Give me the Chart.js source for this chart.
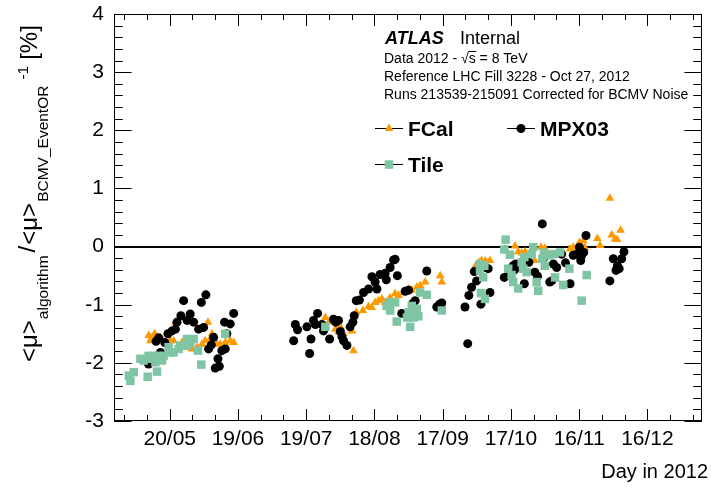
<!DOCTYPE html>
<html>
<head>
<meta charset="utf-8">
<script src="https://cdn.jsdelivr.net/npm/chart.js@4.4.0/dist/chart.umd.min.js"></script>
<style>
  html, body { margin: 0; padding: 0; background: #fff; }
  canvas { display: block; }
</style>
</head>
<body>
<canvas id="myChart" width="711" height="490"></canvas>
<script>
// day of year 2012 / relative difference in %
const fcalDays = [131.7, 132.5, 133.2, 134.4, 135.8, 137.6, 139.8, 141.3, 142.7, 143.5, 146.4, 148.6, 150.8, 153.0, 155.2, 156.6, 157.8, 158.8, 159.6, 161.8, 163.2, 165.4, 167.6, 169.1,
  209.4, 211.0, 213.8, 215.2, 216.0, 217.4, 221.1, 221.8, 223.0, 225.9, 228.4, 229.8, 231.3, 232.8, 234.3, 235.7, 237.9, 240.1, 241.6, 243.8, 246.0, 247.4, 249.6, 251.1, 253.3, 259.9, 260.6,
  275.5, 277.0, 278.1, 279.8, 281.8, 288.4, 292.8, 294.2, 295.7, 297.2, 301.5, 304.2, 305.9, 317.0, 318.4, 321.1, 322.8, 323.5, 329.0, 330.2, 334.5, 335.3, 336.7, 337.7, 339.2];
const fcalValues = [-1.53, -1.62, -1.56, -1.50, -1.59, -1.59, -1.68, -1.62, -1.62, -1.30, -1.65, -1.73, -1.76, -1.73, -1.68, -1.62, -1.30, -1.59, -1.50, -1.68, -1.68, -1.65, -1.62, -1.65,
  -1.22, -1.30, -1.42, -1.47, -1.38, -1.50, -1.45, -1.79, -1.13, -1.10, -1.03, -1.05, -0.96, -0.93, -0.90, -0.96, -0.88, -0.81, -0.84, -0.79, -0.73, -0.75, -0.70, -0.67, -0.61, -0.50, -0.61,
  -0.33, -0.27, -0.24, -0.25, -0.24, -0.04, 0.01, -0.09, -0.11, -0.09, -0.24, -0.01, -0.03, -0.04, -0.01, 0.07, 0.10, -0.02, 0.14, 0.02, 0.83, 0.20, 0.13, 0.12, 0.28];

const mpxDays = [131.7, 135.0, 136.1, 136.9, 138.8, 140.2, 142.0, 143.5, 144.2, 145.9, 147.1, 148.6, 150.0, 151.5, 153.7, 154.9, 155.9, 156.9, 158.1, 159.3, 160.3, 161.0, 162.2, 162.8, 163.9, 165.1, 165.4, 166.1, 167.6, 169.1,
  195.5, 196.2, 197.2, 201.3, 202.5, 203.1, 204.2, 205.0, 206.0, 207.9, 208.6, 211.3, 213.0, 214.0, 215.2, 216.0, 216.7, 217.4, 218.9, 220.3, 221.5, 222.1, 223.0, 224.4, 226.2, 228.4, 229.9, 231.3, 232.1, 233.5, 235.7, 236.2, 237.9, 239.4, 240.1, 241.1, 243.0, 244.5, 246.0, 247.9, 248.9, 254.0, 258.4, 259.6, 260.6,
  270.8, 272.0, 272.5, 273.7, 274.9, 275.9, 277.8, 279.6, 281.0, 281.8, 288.1, 290.0, 292.0, 293.1, 292.6, 296.9, 298.9, 301.5, 302.7, 304.8, 305.3, 308.1, 308.9, 309.7, 311.1, 313.3, 315.0, 317.0, 318.4, 319.9, 321.1, 321.7, 322.1, 323.0, 324.0, 334.5, 336.0, 337.2, 337.8, 338.6, 339.7, 340.7];
const mpxValues = [-2.02, -1.63, -1.57, -1.82, -1.65, -1.50, -1.45, -1.42, -1.30, -1.19, -0.93, -1.27, -1.16, -1.30, -1.42, -0.96, -1.39, -0.83, -1.76, -1.69, -1.56, -2.09, -1.93, -2.06, -1.79, -1.30, -1.76, -1.50, -1.33, -1.15,
  -1.62, -1.34, -1.43, -1.38, -1.84, -1.59, -1.27, -1.34, -1.15, -1.34, -1.45, -1.59, -1.25, -1.30, -1.27, -1.46, -1.55, -1.62, -1.70, -1.38, -1.30, -1.19, -0.93, -0.92, -0.79, -0.73, -0.52, -0.61, -0.73, -0.48, -0.46, -0.57, -0.36, -0.23, -0.22, -0.50, -1.15, -0.77, -0.75, -0.98, -0.93, -0.42, -1.04, -0.99, -0.97,
  -1.04, -1.67, -0.84, -0.70, -0.43, -0.59, -0.99, -0.36, -0.38, -0.79, -0.53, -0.48, -0.33, -0.30, -0.40, -0.64, -0.27, -0.44, -0.51, 0.39, -0.20, -0.61, -0.59, -0.30, -0.36, -0.13, -0.28, -0.64, -0.15, -0.13, -0.01, -0.24, -0.15, -0.10, 0.19, -0.59, -0.21, -0.41, -0.33, -0.38, -0.21, -0.09];

const tileDays = [123.0, 123.7, 125.2, 128.1, 129.5, 131.3, 131.7, 133.2, 133.9, 134.7, 135.4, 136.1, 137.6, 138.3, 140.5, 141.3, 142.7, 144.9, 145.6, 148.6, 148.6, 150.0, 151.5, 153.4, 154.9, 165.4,
  209.4, 236.4, 237.4, 237.9, 240.1, 240.8, 245.3, 246.0, 246.7, 247.4, 248.2, 249.6, 250.3, 251.1, 254.0, 260.6,
  277.4, 279.3, 277.4, 278.8, 277.8, 279.6, 288.7, 288.1, 290.6, 289.8, 291.3, 292.0, 294.2, 295.7, 296.4, 297.9, 296.9, 300.1, 300.8, 302.3, 303.0, 304.8, 305.9, 305.5, 307.5, 309.7, 312.6, 310.4, 316.7, 314.0, 324.3, 322.1];
const tileValues = [-2.22, -2.31, -2.16, -1.93, -1.96, -2.24, -1.88, -1.93, -1.88, -1.99, -2.15, -1.88, -1.96, -1.88, -1.73, -1.82, -1.82, -1.76, -1.70, -1.59, -1.70, -1.65, -1.59, -1.79, -2.03, -1.50,
  -1.38, -1.02, -0.96, -1.10, -0.96, -1.29, -1.22, -1.13, -1.38, -1.02, -1.22, -1.07, -1.20, -0.79, -0.83, -1.10,
  -0.30, -0.33, -0.41, -0.53, -0.80, -0.90, 0.12, -0.05, -0.14, -0.38, -0.49, -0.61, -0.72, -0.27, -0.38, -0.44, -0.18, -0.13, -0.01, -0.61, -0.76, -0.21, -0.33, -0.10, -0.15, -0.13, -0.10, -0.53, -0.38, -0.66, -0.49, -0.93];

const tickDays = [141, 171, 201, 231, 261, 291, 321, 351];
const tickLabels = ["20/05", "19/06", "19/07", "18/08", "17/09", "17/10", "16/11", "16/12"];

const ORANGE = "rgb(255,153,0)";
const TEAL = "rgb(127,197,163)";
const FONT = "'Liberation Sans', Arial, Helvetica, sans-serif";

function toPoints(days, values) {
  return days.map((d, i) => ({ x: d, y: values[i] }));
}

// ROOT style frame with inward ticks on all four sides
const frameTicks = {
  id: "frameTicks",
  afterDatasetsDraw(chart) {
    const { ctx, chartArea: a, scales: { x, y } } = chart;
    ctx.save();
    ctx.strokeStyle = "#000";
    ctx.lineWidth = 1;
    ctx.strokeRect(a.left + 0.5, a.top + 0.5, a.right - a.left - 1, a.bottom - a.top - 1);
    ctx.beginPath();
    for (let d = 121; d <= 371; d += 10) {
      const px = Math.round(x.getPixelForValue(d)) + 0.5;
      const len = tickDays.includes(d) ? 12 : 6;
      ctx.moveTo(px, a.bottom);
      ctx.lineTo(px, a.bottom - len);
      ctx.moveTo(px, a.top);
      ctx.lineTo(px, a.top + len);
    }
    for (let i = -15; i <= 20; i++) {
      const py = Math.round(y.getPixelForValue(i / 5)) + 0.5;
      const len = i % 5 === 0 ? 17.6 : 8.8;
      ctx.moveTo(a.left, py);
      ctx.lineTo(a.left + len, py);
      ctx.moveTo(a.right, py);
      ctx.lineTo(a.right - len, py);
    }
    ctx.stroke();
    ctx.restore();
  },
};

// labels, legend and axis titles
const texts = {
  id: "texts",
  afterDraw(chart) {
    const ctx = chart.ctx;
    ctx.save();
    ctx.fillStyle = "#000";
    ctx.textBaseline = "alphabetic";
    ctx.textAlign = "left";

    ctx.font = "italic bold 18px " + FONT;
    ctx.fillText("ATLAS", 385, 44);
    ctx.font = "18px " + FONT;
    ctx.fillText("Internal", 460, 44);
    ctx.font = "14px " + FONT;
    const pre = "Data 2012 - \u221A";
    ctx.fillText(pre + "s = 8 TeV", 384, 63);
    // overline over the s of sqrt(s)
    const sx = 384 + ctx.measureText(pre).width;
    const sw = ctx.measureText("s").width;
    ctx.fillRect(sx - 0.5, 51, sw + 1, 1);
    ctx.fillText("Reference LHC Fill 3228 - Oct 27, 2012", 384, 81);
    ctx.fillText("Runs 213539-215091 Corrected for BCMV Noise", 384, 99);

    // legend
    const items = [
      { label: "FCal", ds: 2, x: 375, y: 128 },
      { label: "MPX03", ds: 1, x: 507, y: 128 },
      { label: "Tile", ds: 0, x: 375, y: 164 },
    ];
    items.forEach((it) => {
      const ds = chart.data.datasets[it.ds];
      ctx.strokeStyle = "#000";
      ctx.lineWidth = 1;
      ctx.beginPath();
      ctx.moveTo(it.x, it.y + 0.5);
      ctx.lineTo(it.x + 28, it.y + 0.5);
      ctx.stroke();
      ctx.fillStyle = ds.backgroundColor;
      Chart.helpers.drawPoint(ctx, { pointStyle: ds.pointStyle, radius: ds.pointRadius, borderWidth: 0, rotation: 0 }, it.x + 14, it.y + 0.5);
      ctx.fillStyle = "#000";
      ctx.font = "bold 21px " + FONT;
      ctx.fillText(it.label, it.x + 33, it.y + 8);
    });

    // x title
    ctx.font = "20px " + FONT;
    ctx.textAlign = "right";
    ctx.fillText("Day in 2012", 708, 478);

    // y title, rotated, with sub/superscripts
    ctx.textAlign = "left";
    ctx.translate(37, 362);
    ctx.rotate(-Math.PI / 2);
    const parts = [
      ["<\u03BC>", 24, 0, 0],
      ["algorithm", 15.5, 11, 1],
      ["/", 24, -2, 3],
      ["<\u03BC>", 24, 0, 1],
      ["BCMV_EventOR", 15.5, 11, 1],
      ["-1", 15.5, -9, 6],
      ["[%]", 24, 0, 6],
    ];
    let pos = 0;
    parts.forEach(([t, size, dy, gap]) => {
      pos += gap;
      ctx.font = size + "px " + FONT;
      ctx.fillText(t, pos, dy);
      pos += ctx.measureText(t).width;
    });
    ctx.restore();
  },
};

const ctx = document.querySelector("#myChart");

const myChart = new Chart(ctx, {
  type: "scatter",
  data: {
    datasets: [
      {
        label: "Tile",
        data: toPoints(tileDays, tileValues),
        pointStyle: "rect",
        pointRadius: 6,
        backgroundColor: TEAL,
        borderWidth: 0,
        order: 0,
      },
      {
        label: "MPX03",
        data: toPoints(mpxDays, mpxValues),
        pointStyle: "circle",
        pointRadius: 4.5,
        backgroundColor: "#000",
        borderWidth: 0,
        order: 1,
      },
      {
        label: "FCal",
        data: toPoints(fcalDays, fcalValues),
        pointStyle: "triangle",
        pointRadius: 5,
        backgroundColor: ORANGE,
        borderWidth: 0,
        order: 2,
      },
    ],
  },
  options: {
    responsive: false,
    devicePixelRatio: 1,
    animation: false,
    layout: { padding: { left: 0, top: 14, right: 9, bottom: 0 } },
    font: { family: FONT },
    plugins: {
      legend: { display: false },
      tooltip: { enabled: false },
    },
    scales: {
      x: {
        type: "linear",
        min: 116.5,
        max: 375,
        afterBuildTicks: (s) => {
          s.ticks = tickDays.map((v) => ({ value: v }));
        },
        afterFit: (s) => {
          s.height = 69;
          s.paddingLeft = 0;
          s.paddingRight = 0;
        },
        ticks: {
          callback: (v) => tickLabels[tickDays.indexOf(v)],
          font: { size: 21, family: FONT },
          color: "#000",
          padding: -2,
          maxRotation: 0,
          autoSkip: false,
        },
        grid: { display: false },
        border: { display: false },
      },
      y: {
        min: -3,
        max: 4,
        afterFit: (s) => {
          s.width = 114;
          s.paddingTop = 0;
          s.paddingBottom = 0;
        },
        ticks: {
          stepSize: 1,
          callback: (v) => String(v),
          font: { size: 21, family: FONT },
          color: "#000",
          padding: 10,
        },
        grid: {
          drawTicks: false,
          color: (c) => (c.tick && c.tick.value === 0 ? "#000" : "rgba(0,0,0,0)"),
          lineWidth: (c) => (c.tick && c.tick.value === 0 ? 2 : 0),
        },
        border: { display: false },
      },
    },
  },
  plugins: [frameTicks, texts],
});
</script>
</body>
</html>
